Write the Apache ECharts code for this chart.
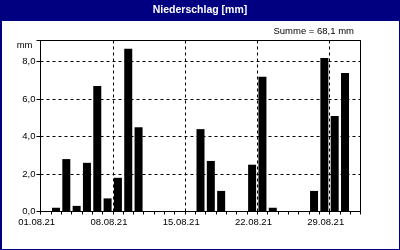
<!DOCTYPE html>
<html>
<head>
<meta charset="utf-8">
<script src="https://cdn.jsdelivr.net/npm/echarts@6/dist/echarts.min.js"></script>
<style>
  body { margin: 0; }
  #wrap { position: relative; width: 400px; height: 250px; background: #000080; }
  #paper { position: absolute; left: 2px; top: 21px; width: 397px; height: 228px; background: #fff; }
  #chart { position: absolute; left: 0; top: 0; width: 400px; height: 250px; }
</style>
</head>
<body>
<div id="wrap">
  <div id="paper"></div>
  <div id="chart"></div>
</div>
<script>
// Tage im August 2021
var days = [
  "01.08.21", "02.08.21", "03.08.21", "04.08.21", "05.08.21", "06.08.21", "07.08.21",
  "08.08.21", "09.08.21", "10.08.21", "11.08.21", "12.08.21", "13.08.21", "14.08.21",
  "15.08.21", "16.08.21", "17.08.21", "18.08.21", "19.08.21", "20.08.21", "21.08.21",
  "22.08.21", "23.08.21", "24.08.21", "25.08.21", "26.08.21", "27.08.21", "28.08.21",
  "29.08.21", "30.08.21", "31.08.21"
];
// Niederschlag in mm pro Tag
var rain = [
  0, 0.2, 2.8, 0.3, 2.6, 6.7, 0.7,
  1.8, 8.7, 4.5, 0, 0, 0, 0,
  0, 4.4, 2.7, 1.1, 0, 0, 2.5,
  7.2, 0.2, 0, 0, 0, 1.1, 8.2,
  5.1, 7.4, 0
];
var titleText = "Niederschlag [mm]";
var sumText = "Summe = 68,1 mm";
var unit = "mm";

var font = "Liberation Sans";
var chart = echarts.init(document.getElementById("chart"));
chart.setOption({
  animation: false,
  textStyle: { fontFamily: font },
  title: [
    {
      text: titleText,
      left: "center",
      top: 5,
      padding: 0,
      textStyle: { color: "#fff", fontWeight: "bold", fontSize: 10.5, fontFamily: font }
    },
    {
      text: sumText,
      right: 46,
      top: 26,
      padding: 0,
      textStyle: { color: "#000", fontWeight: "normal", fontSize: 9.5, fontFamily: font }
    }
  ],
  grid: {
    left: 40.5, top: 40.5, width: 320, height: 171,
    show: true, borderColor: "#000", borderWidth: 1
  },
  xAxis: {
    type: "category",
    data: days,
    boundaryGap: true,
    axisLine: { lineStyle: { color: "#000", width: 1 } },
    axisTick: { show: true, interval: 0, length: 3, lineStyle: { color: "#000" } },
    axisLabel: {
      interval: function (i) { return i % 7 === 0; },
      color: "#000",
      fontSize: 9.5,
      margin: 6,
      padding: [0, 18, 0, 0]
    },
    splitLine: {
      show: true,
      interval: function (i) { return i % 7 === 0 && i > 0; },
      lineStyle: { color: "#000", type: [3, 3], width: 1 }
    }
  },
  yAxis: {
    type: "value",
    min: 0,
    max: function (v) { return v.max * 1.05; },
    interval: 2,
    name: unit,
    nameLocation: "end",
    nameGap: -5,
    nameTextStyle: { color: "#000", fontSize: 9.5, align: "right", verticalAlign: "middle", padding: [0, 8, 0, 0] },
    axisLine: { show: true, lineStyle: { color: "#000", width: 1 } },
    axisTick: { show: true, length: 4, lineStyle: { color: "#000" } },
    axisLabel: {
      color: "#000",
      fontSize: 9.5,
      margin: 5,
      formatter: function (v) {
        return v % 2 === 0 ? v.toFixed(1).replace(".", ",") : "";
      }
    },
    splitLine: { show: true, lineStyle: { color: "#000", type: [3, 3], width: 1 } }
  },
  series: [
    {
      type: "bar",
      data: rain,
      barWidth: 8,
      itemStyle: { color: "#000" }
    }
  ]
});
</script>
</body>
</html>
